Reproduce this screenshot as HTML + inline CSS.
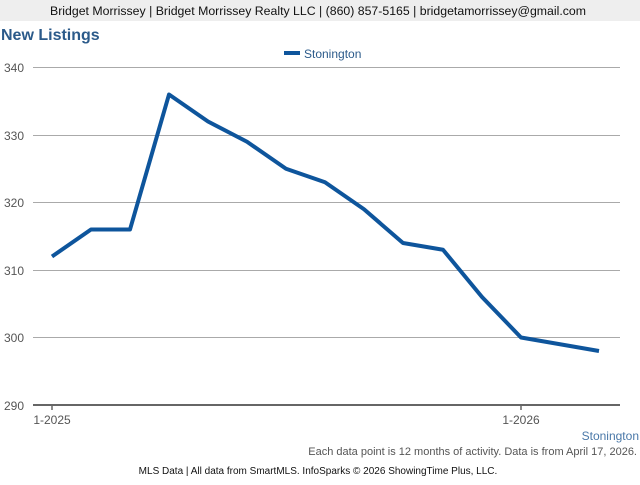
<!DOCTYPE html>
<html><head><style>
body{margin:0;width:640px;height:480px;background:#fff;overflow:hidden;font-family:"Liberation Sans",Arial,sans-serif}
</style></head><body>
<svg width="640" height="480" xmlns="http://www.w3.org/2000/svg" font-family="Liberation Sans, Arial, sans-serif">
<rect x="0" y="0" width="640" height="21" fill="#eeeeee"/>
<text x="318" y="15" font-size="12.3" text-anchor="middle" fill="#111">Bridget Morrissey | Bridget Morrissey Realty LLC | (860) 857-5165 | bridgetamorrissey@gmail.com</text>
<text x="1" y="40" font-size="16" font-weight="bold" fill="#2b5a8a">New Listings</text>
<rect x="284" y="51" width="16" height="4" fill="#0e559c"/>
<text x="304" y="58" font-size="12" fill="#2b5a8a">Stonington</text>
<g stroke="#aaa" stroke-width="1">
<line x1="33" y1="67.5" x2="620" y2="67.5"/>
<line x1="33" y1="135.5" x2="620" y2="135.5"/>
<line x1="33" y1="202.5" x2="620" y2="202.5"/>
<line x1="33" y1="270.5" x2="620" y2="270.5"/>
<line x1="33" y1="337.5" x2="620" y2="337.5"/>
</g>
<line x1="33" y1="405" x2="620" y2="405" stroke="#666" stroke-width="2"/>
<line x1="52" y1="405" x2="52" y2="410" stroke="#666" stroke-width="1.5"/>
<line x1="521" y1="405" x2="521" y2="410" stroke="#666" stroke-width="1.5"/>
<g font-size="12" fill="#555" text-anchor="end">
<text x="24" y="72">340</text><text x="24" y="140">330</text><text x="24" y="207">320</text>
<text x="24" y="275">310</text><text x="24" y="342">300</text><text x="24" y="410">290</text>
</g>
<g font-size="12" fill="#555" text-anchor="middle">
<text x="52" y="424">1-2025</text><text x="521" y="424">1-2026</text>
</g>
<polyline fill="none" stroke="#0e559c" stroke-width="4" stroke-linejoin="round" points="52,256.5 91,229.5 130,229.5 169,94.5 208,121.5 247,141.75 286,168.75 325,182.25 364,209.25 403,243 443,249.75 482,297 521,337.5 560,344.25 599,351"/>
<text x="639" y="440" font-size="12" fill="#4a78a8" text-anchor="end">Stonington</text>
<text x="637" y="455" font-size="11" fill="#555" text-anchor="end">Each data point is 12 months of activity. Data is from April 17, 2026.</text>
<text x="318" y="474" font-size="10" fill="#111" text-anchor="middle">MLS Data | All data from SmartMLS. InfoSparks © 2026 ShowingTime Plus, LLC.</text>
</svg>
</body></html>
